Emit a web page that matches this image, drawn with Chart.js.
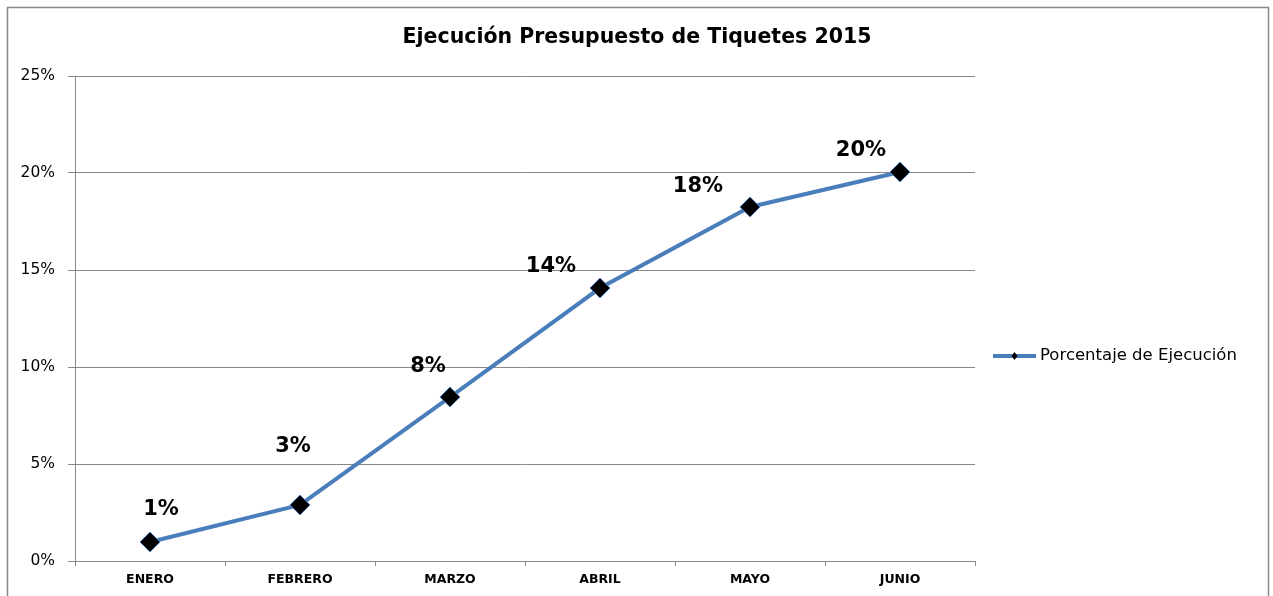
<!DOCTYPE html>
<html>
<head>
<meta charset="utf-8">
<script src="https://cdn.jsdelivr.net/npm/chart.js@4"></script>
<style>
  html, body { margin: 0; padding: 0; background: #fff; }
  #wrap { width: 1273px; height: 596px; }
</style>
</head>
<body>
<div id="wrap"><canvas id="chart"></canvas></div>
<script>
// Chart data
const months = ['ENERO', 'FEBRERO', 'MARZO', 'ABRIL', 'MAYO', 'JUNIO'];
const ejecucion = [0.98, 2.89, 8.45, 14.07, 18.25, 20.05]; // percent
const seriesName = 'Porcentaje de Ejecución';
const chartTitle = 'Ejecución Presupuesto de Tiquetes 2015';

const FONT = "'DejaVu Sans', Verdana, sans-serif";
const BLUE = '#4A7EBB';
const GRID = '#888888';

// label offsets (dx, dy) from each point, as Excel placed them
const labelOffsets = [[11, -32], [-7, -58], [-22, -31], [-49, -21], [-52, -20], [-39, -21]];

// Frame, title, value labels and the legend on the right
const extrasPlugin = {
  id: 'extras',
  beforeDraw(chart) {
    const ctx = chart.ctx;
    ctx.save();
    ctx.strokeStyle = GRID;
    ctx.lineWidth = 1.5;
    ctx.strokeRect(7.5, 7.5, 1261, 620);
    // title centred on the whole frame
    ctx.font = 'bold 20.5px ' + FONT;
    ctx.fillStyle = '#000';
    ctx.textAlign = 'center';
    ctx.textBaseline = 'middle';
    ctx.fillText(chartTitle, 637, 38);
    ctx.restore();
  },
  afterDatasetsDraw(chart) {
    const ctx = chart.ctx;
    const meta = chart.getDatasetMeta(0);
    ctx.save();
    ctx.font = 'bold 21px ' + FONT;
    ctx.fillStyle = '#000';
    ctx.textAlign = 'center';
    ctx.textBaseline = 'middle';
    meta.data.forEach((pt, i) => {
      const off = labelOffsets[i];
      ctx.fillText(Math.round(ejecucion[i]) + '%', pt.x + off[0], pt.y + off[1]);
    });
    ctx.restore();
  },
  afterDraw(chart) {
    const ctx = chart.ctx;
    const area = chart.chartArea;
    const x0 = area.right + 18;
    const y = 356;
    ctx.save();
    ctx.strokeStyle = BLUE;
    ctx.lineWidth = 4;
    ctx.beginPath();
    ctx.moveTo(x0, y);
    ctx.lineTo(x0 + 43, y);
    ctx.stroke();
    // small diamond marker
    ctx.fillStyle = '#000';
    ctx.beginPath();
    ctx.moveTo(x0 + 21.5, y - 4);
    ctx.lineTo(x0 + 24.5, y);
    ctx.lineTo(x0 + 21.5, y + 4);
    ctx.lineTo(x0 + 18.5, y);
    ctx.closePath();
    ctx.fill();
    ctx.font = '16.5px ' + FONT;
    ctx.textAlign = 'left';
    ctx.textBaseline = 'middle';
    ctx.fillText(seriesName, x0 + 47, y);
    ctx.restore();
  }
};

const ctx = document.getElementById('chart').getContext('2d');
new Chart(ctx, {
  type: 'line',
  data: {
    labels: months,
    datasets: [{
      label: seriesName,
      data: ejecucion,
      borderColor: BLUE,
      borderWidth: 4,
      tension: 0,
      fill: false,
      pointStyle: 'rectRot',
      pointRadius: 10,
      pointHoverRadius: 10,
      pointBackgroundColor: '#000',
      pointBorderColor: BLUE,
      pointBorderWidth: 1
    }]
  },
  options: {
    responsive: true,
    maintainAspectRatio: false,
    animation: false,
    layout: {
      padding: { left: 0, right: 298, top: 76, bottom: 0 }
    },
    plugins: {
      legend: { display: false },
      tooltip: { enabled: false },
      title: { display: false }
    },
    scales: {
      x: {
        offset: true,
        grid: {
          offset: true,
          drawOnChartArea: false,
          drawTicks: true,
          tickLength: 5,
          color: GRID
        },
        border: { color: GRID, width: 1 },
        ticks: {
          color: '#000',
          padding: 6,
          font: { family: FONT, size: 12.5, weight: 'bold' }
        },
        afterFit(scale) { scale.height = 35; }
      },
      y: {
        min: 0,
        max: 25,
        grid: {
          color: GRID,
          tickLength: 7,
          drawTicks: true
        },
        border: { color: GRID, width: 1 },
        ticks: {
          stepSize: 5,
          color: '#000',
          padding: 13,
          font: { family: FONT, size: 15.5 },
          callback: v => v + '%'
        },
        afterFit(scale) { scale.width = 75; }
      }
    }
  },
  plugins: [extrasPlugin]
});
</script>
</body>
</html>
